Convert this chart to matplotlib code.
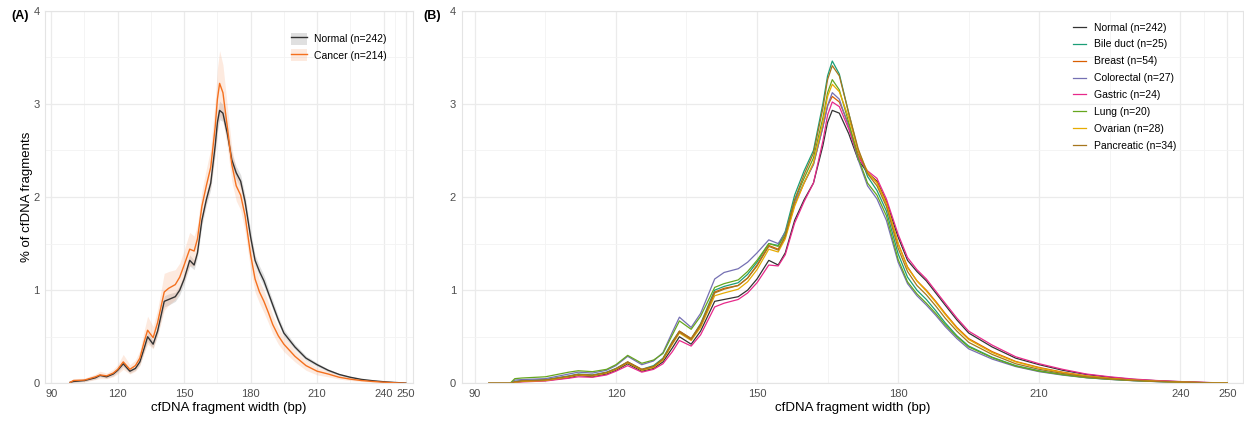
import matplotlib
matplotlib.use('Agg')
import matplotlib.pyplot as plt
from matplotlib.lines import Line2D
from matplotlib.patches import Patch

plt.rcParams['font.family'] = ['Liberation Sans', 'DejaVu Sans']

# fragment widths (bp) where the curves were read
widths = [93, 97.5, 98.5, 100, 105, 110, 112, 115, 118, 120, 122.5, 125.5, 128, 130, 132, 133.5,
          136, 138, 141, 143, 146, 148, 150, 152.5, 154.5, 156, 158, 160, 162, 164, 165, 166,
          167.5, 169.5, 171.5, 173.5, 175.5, 177.5, 180, 182, 184, 186, 188, 190, 192.5, 195,
          200, 205, 210, 215, 220, 225, 230, 235, 240, 245, 250]

# % of cfDNA fragments per group
normal = [0, 0, 0.01, 0.02, 0.03, 0.06, 0.085, 0.07, 0.1, 0.14, 0.21, 0.13, 0.16, 0.23, 0.38, 0.5,
          0.42, 0.56, 0.88, 0.9, 0.93, 1.0, 1.12, 1.32, 1.27, 1.4, 1.75, 1.97, 2.15, 2.55, 2.8, 2.93,
          2.9, 2.68, 2.4, 2.26, 2.17, 1.95, 1.57, 1.32, 1.2, 1.1, 0.97, 0.84, 0.68, 0.54,
          0.39, 0.27, 0.2, 0.14, 0.095, 0.065, 0.042, 0.028, 0.017, 0.009, 0.003]
cancer = [0, 0, 0.01, 0.03, 0.035, 0.07, 0.09, 0.08, 0.11, 0.15, 0.23, 0.15, 0.19, 0.27, 0.45, 0.57,
          0.49, 0.65, 0.98, 1.02, 1.06, 1.14, 1.27, 1.44, 1.42, 1.55, 1.9, 2.12, 2.32, 2.75, 3.05, 3.22,
          3.12, 2.75, 2.35, 2.12, 2.02, 1.8, 1.38, 1.12, 0.98, 0.88, 0.76, 0.63, 0.51, 0.42,
          0.29, 0.19, 0.13, 0.1, 0.065, 0.045, 0.03, 0.02, 0.012, 0.006, 0.001]
# half width of the confidence ribbons
normal_ci = [0, 0, 0.005, 0.01, 0.01, 0.015, 0.015, 0.015, 0.02, 0.02, 0.03, 0.02, 0.02, 0.03, 0.04, 0.05,
             0.04, 0.04, 0.06, 0.06, 0.05, 0.05, 0.05, 0.06, 0.05, 0.05, 0.06, 0.06, 0.07, 0.09, 0.1, 0.1,
             0.09, 0.08, 0.07, 0.07, 0.07, 0.07, 0.07, 0.06, 0.06, 0.06, 0.05, 0.05, 0.04, 0.04,
             0.03, 0.025, 0.02, 0.015, 0.01, 0.008, 0.006, 0.004, 0.003, 0.002, 0.001]
cancer_ci = [0, 0, 0.01, 0.02, 0.02, 0.03, 0.04, 0.03, 0.04, 0.05, 0.08, 0.05, 0.06, 0.08, 0.12, 0.15,
             0.12, 0.14, 0.2, 0.18, 0.16, 0.15, 0.16, 0.18, 0.16, 0.15, 0.16, 0.18, 0.2, 0.28, 0.33, 0.35,
             0.3, 0.22, 0.18, 0.16, 0.16, 0.17, 0.16, 0.14, 0.12, 0.12, 0.11, 0.1, 0.09, 0.08,
             0.06, 0.05, 0.04, 0.03, 0.02, 0.015, 0.01, 0.008, 0.005, 0.003, 0.001]

bile_duct = [0, 0, 0.02, 0.03, 0.04, 0.08, 0.1, 0.09, 0.12, 0.16, 0.23, 0.15, 0.19, 0.27, 0.45, 0.56,
             0.48, 0.64, 1.0, 1.04, 1.08, 1.17, 1.3, 1.5, 1.48, 1.63, 2.02, 2.28, 2.5, 3.0, 3.3, 3.46,
             3.32, 2.9, 2.5, 2.22, 2.07, 1.85, 1.39, 1.14, 1.0, 0.9, 0.78, 0.65, 0.51, 0.4,
             0.28, 0.19, 0.135, 0.095, 0.063, 0.044, 0.03, 0.02, 0.012, 0.006, 0.002]
breast = [0, 0, 0.015, 0.025, 0.035, 0.075, 0.095, 0.085, 0.115, 0.155, 0.23, 0.15, 0.18, 0.26, 0.44, 0.56,
          0.48, 0.63, 0.98, 1.02, 1.05, 1.13, 1.27, 1.48, 1.44, 1.57, 1.92, 2.15, 2.35, 2.75, 2.98, 3.08,
          3.02, 2.78, 2.46, 2.26, 2.16, 1.94, 1.5, 1.25, 1.1, 1.0, 0.88, 0.75, 0.6, 0.48,
          0.34, 0.235, 0.17, 0.12, 0.08, 0.055, 0.037, 0.024, 0.015, 0.008, 0.002]
colorectal = [0, 0, 0.035, 0.04, 0.05, 0.1, 0.12, 0.11, 0.14, 0.19, 0.29, 0.2, 0.24, 0.33, 0.55, 0.71,
              0.6, 0.75, 1.12, 1.19, 1.23, 1.3, 1.4, 1.54, 1.5, 1.62, 1.95, 2.15, 2.35, 2.75, 2.98, 3.12,
              3.05, 2.75, 2.4, 2.12, 1.98, 1.75, 1.3, 1.07, 0.94, 0.84, 0.73, 0.61, 0.48, 0.37,
              0.26, 0.18, 0.125, 0.088, 0.06, 0.042, 0.028, 0.018, 0.011, 0.006, 0.002]
gastric = [0, 0, 0.01, 0.015, 0.025, 0.055, 0.07, 0.065, 0.09, 0.13, 0.19, 0.12, 0.15, 0.21, 0.34, 0.46,
           0.4, 0.52, 0.82, 0.86, 0.9, 0.97, 1.08, 1.27, 1.26, 1.38, 1.72, 1.95, 2.15, 2.6, 2.88, 3.02,
           2.97, 2.73, 2.43, 2.28, 2.2, 1.98, 1.6, 1.35, 1.22, 1.12, 0.99, 0.86, 0.7, 0.56,
           0.41, 0.285, 0.21, 0.15, 0.1, 0.07, 0.046, 0.03, 0.019, 0.01, 0.003]
lung = [0, 0, 0.05, 0.057, 0.07, 0.12, 0.135, 0.125, 0.15, 0.2, 0.3, 0.215, 0.25, 0.32, 0.52, 0.67,
        0.58, 0.72, 1.03, 1.07, 1.11, 1.2, 1.32, 1.5, 1.47, 1.6, 1.97, 2.2, 2.42, 2.85, 3.12, 3.26,
        3.15, 2.8, 2.42, 2.15, 2.02, 1.8, 1.33, 1.09, 0.96, 0.86, 0.75, 0.63, 0.5, 0.39,
        0.275, 0.185, 0.13, 0.092, 0.061, 0.043, 0.029, 0.019, 0.012, 0.006, 0.002]
ovarian = [0, 0, 0.01, 0.02, 0.03, 0.07, 0.09, 0.08, 0.11, 0.15, 0.22, 0.14, 0.17, 0.25, 0.42, 0.54,
           0.46, 0.6, 0.94, 0.97, 1.01, 1.09, 1.22, 1.44, 1.41, 1.55, 1.9, 2.15, 2.37, 2.8, 3.08, 3.21,
           3.13, 2.85, 2.5, 2.27, 2.15, 1.93, 1.5, 1.24, 1.1, 0.99, 0.87, 0.74, 0.59, 0.47,
           0.33, 0.23, 0.165, 0.115, 0.077, 0.052, 0.035, 0.023, 0.014, 0.007, 0.002]
pancreatic = [0, 0, 0.015, 0.025, 0.035, 0.075, 0.095, 0.085, 0.115, 0.155, 0.225, 0.145, 0.18, 0.26, 0.43, 0.55,
              0.47, 0.62, 0.97, 1.01, 1.05, 1.13, 1.26, 1.47, 1.43, 1.58, 1.97, 2.24, 2.47, 2.95, 3.26, 3.41,
              3.3, 2.9, 2.52, 2.25, 2.12, 1.9, 1.45, 1.2, 1.05, 0.95, 0.83, 0.7, 0.56, 0.44,
              0.31, 0.21, 0.15, 0.105, 0.07, 0.048, 0.032, 0.021, 0.013, 0.007, 0.002]

group_labels = ['Normal (n=242)', 'Cancer (n=214)']
type_labels = ['Normal (n=242)', 'Bile duct (n=25)', 'Breast (n=54)', 'Colorectal (n=27)',
               'Gastric (n=24)', 'Lung (n=20)', 'Ovarian (n=28)', 'Pancreatic (n=34)']
type_series = [normal, bile_duct, breast, colorectal, gastric, lung, ovarian, pancreatic]
type_colors = ['#333333', '#1B9E77', '#D95F02', '#7570B3', '#E7298A', '#66A61E', '#E6AB02', '#A6761D']

x_major = [90, 120, 150, 180, 210, 240, 250]
x_minor = [105, 135, 165, 195, 225, 245]


def style_axes(ax):
    # estilo parecido com ggplot theme_minimal
    ax.set_xlim(87.2, 253.3)
    ax.set_ylim(0, 4)
    ax.set_xticks(x_major)
    ax.set_xticks(x_minor, minor=True)
    ax.set_yticks([0, 1, 2, 3, 4])
    ax.set_yticks([0.5, 1.5, 2.5, 3.5], minor=True)
    ax.grid(True, which='major', color='#EBEBEB', lw=0.9)
    ax.grid(True, which='minor', color='#F3F3F3', lw=0.6)
    ax.set_axisbelow(True)
    for s in ax.spines.values():
        s.set_color('#E4E4E4')
        s.set_linewidth(0.8)
    ax.tick_params(which='both', length=0, labelsize=8, labelcolor='#4D4D4D', pad=4)
    ax.set_xlabel('cfDNA fragment width (bp)', fontsize=9.5, labelpad=2)


fig = plt.figure(figsize=(12.44, 4.21), dpi=100)
ax_a = fig.add_axes([0.0362, 0.0895, 0.2958, 0.8851])
ax_b = fig.add_axes([0.3711, 0.0895, 0.6280, 0.8851])

# painel A: normal vs cancer com faixas
xa = widths[2:]
na = normal[2:]
ca = cancer[2:]
nci = normal_ci[2:]
cci = cancer_ci[2:]
ax_a.fill_between(xa, [v - e for v, e in zip(na, nci)], [v + e for v, e in zip(na, nci)],
                  color='#999999', alpha=0.3, lw=0)
ax_a.fill_between(xa, [v - e for v, e in zip(ca, cci)], [v + e for v, e in zip(ca, cci)],
                  color='#F8A070', alpha=0.22, lw=0)
ax_a.plot(xa, na, color='#333333', lw=1.0, solid_joinstyle='round')
ax_a.plot(xa, ca, color='#F4701E', lw=1.0, solid_joinstyle='round')
style_axes(ax_a)
ax_a.set_ylabel('% of cfDNA fragments', fontsize=9.5, labelpad=0)

handles_a = [(Patch(facecolor='#999999', alpha=0.3, lw=0), Line2D([], [], color='#333333', lw=1.0)),
             (Patch(facecolor='#F8A070', alpha=0.22, lw=0), Line2D([], [], color='#F4701E', lw=1.0))]
ax_a.legend(handles_a, group_labels, loc='upper left', bbox_to_anchor=(0.655, 0.955), frameon=False,
            fontsize=7.5, handlelength=1.5, handleheight=1.4, handletextpad=0.7, labelspacing=0.45,
            borderpad=0)

# painel B: por tipo de cancer
for serie, cor, rot in zip(type_series, type_colors, type_labels):
    ax_b.plot(widths, serie, color=cor, lw=0.9, label=rot, solid_joinstyle='round')
style_axes(ax_b)
ax_b.legend(loc='upper left', bbox_to_anchor=(0.776, 0.982), frameon=False, fontsize=7.5,
            handlelength=1.25, handletextpad=0.75, labelspacing=0.66, borderpad=0)

fig.text(0.009, 0.962, '(A)', fontsize=9, fontweight='bold', va='center')
fig.text(0.340, 0.962, '(B)', fontsize=9, fontweight='bold', va='center')

plt.savefig('out.png', dpi=100)
